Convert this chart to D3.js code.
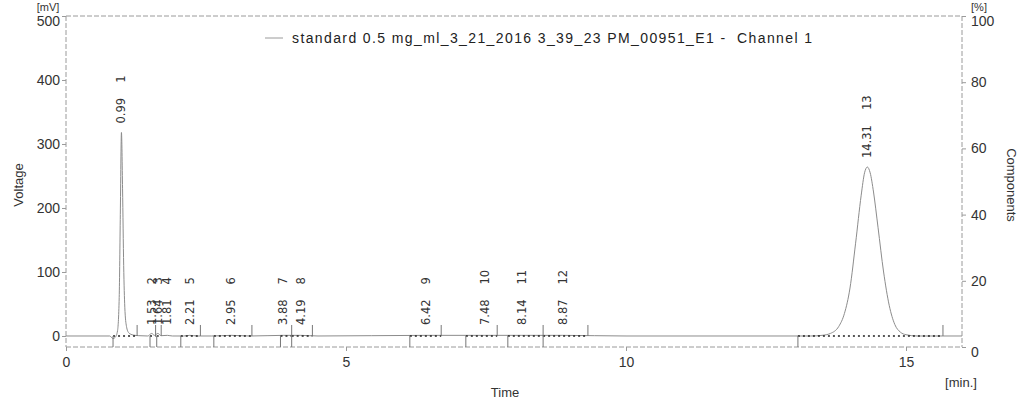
<!DOCTYPE html>
<html>
<head>
<meta charset="utf-8">
<script src="https://cdn.jsdelivr.net/npm/d3@7"></script>
<style>
  body { margin: 0; background: #fff; }
  svg { display: block; }
</style>
</head>
<body>
<div id="chart"></div>
<script>
const canvas = { w: 1022, h: 407 };
const margin = { top: 16, right: 60, bottom: 60, left: 66 };

// chromatogram trace (minutes, mV)
const traceTime = [0, 0.78, 0.84, 0.88, 0.92, 0.95, 0.97, 0.99, 1.01, 1.03, 1.05, 1.08, 1.12, 1.2, 1.3, 1.46,
  1.53, 1.58, 1.64, 1.7, 1.81, 1.9, 2.1, 2.21, 2.35, 2.6, 2.95, 3.3, 3.88, 4.19, 4.5, 6.42, 7.48, 8.14, 8.87,
  10, 12, 13.3, 13.5, 13.65, 13.8, 13.9, 14.0, 14.1, 14.2, 14.26, 14.31, 14.36, 14.42, 14.5, 14.6, 14.7,
  14.8, 14.9, 15.0, 15.2, 16];
const traceMv = [0, 0, -4, -2, 8, 60, 190, 318, 230, 110, 45, 15, 5, 1.5, 0.5, 0,
  4, 1, 4, 0.5, 1, 0, 0, 1, 0, 0, 1, 0, 1, 1, 0, 1, 1, 1, 1,
  0, 0, 0, 1, 4, 15, 35, 75, 145, 220, 255, 264, 255, 225, 170, 100, 48,
  18, 6, 2, 0, 0];

// peak table
const peakIds = [1, 2, 3, 4, 5, 6, 7, 8, 9, 10, 11, 12, 13];
const peakTimes = [0.99, 1.53, 1.64, 1.81, 2.21, 2.95, 3.88, 4.19, 6.42, 7.48, 8.14, 8.87, 14.31];
const peakApex = [318, 3, 3, 3, 3, 3, 3, 3, 3, 3, 3, 3, 264];

// integration baselines (minutes)
const baseStart = [0.84, 1.5, 1.62, 2.05, 2.64, 3.83, 4.03, 6.14, 7.14, 7.89, 8.52, 13.07];
const baseEnd = [1.27, 1.6, 1.7, 2.4, 3.32, 4.03, 4.4, 6.7, 7.7, 8.52, 9.32, 15.66];

const xTicks = [0, 5, 10, 15];
const yTicks = [0, 100, 200, 300, 400, 500];
const y2Ticks = [0, 20, 40, 60, 80, 100];

const legendLabel = "standard 0.5 mg_ml_3_21_2016 3_39_23 PM_00951_E1 -  Channel 1";

const x = d3.scaleLinear().domain([0, 16]).range([margin.left, canvas.w - margin.right]);
const y = d3.scaleLinear().domain([-17.2, 500]).range([canvas.h - margin.bottom, margin.top]);
const y2 = d3.scaleLinear().domain([0, 100]).range([canvas.h - margin.bottom, margin.top]);

const svg = d3.select("#chart")
  .append("svg")
  .attr("width", canvas.w)
  .attr("height", canvas.h)
  .attr("viewBox", `0 0 ${canvas.w} ${canvas.h}`);

const axisFont = "Arial, 'Liberation Sans', sans-serif";
const grey = "#9a9a9a";

// frame
const [x0, x1] = x.range();
const [yb, yt] = y.range();
svg.append("g")
  .attr("stroke", grey).attr("stroke-width", 1).attr("stroke-dasharray", "5,2").attr("fill", "none")
  .selectAll("line")
  .data([[x0, yt, x1, yt], [x0, yb, x1, yb], [x0, yt, x0, yb], [x1, yt, x1, yb]])
  .join("line")
  .attr("x1", d => d[0]).attr("y1", d => d[1]).attr("x2", d => d[2]).attr("y2", d => d[3]);

// axes
function styleAxis(g) {
  g.select(".domain").remove();
  g.selectAll(".tick line").attr("stroke", grey);
  g.selectAll(".tick text").attr("fill", "#333").style("font-family", axisFont).style("font-size", "14px");
}

svg.append("g")
  .attr("transform", `translate(${x0},0)`)
  .call(d3.axisLeft(y).tickValues(yTicks).tickSize(4).tickPadding(2))
  .call(styleAxis)
  .call(g => g.selectAll(".tick text").attr("dy", d => d === 500 ? "0.7em" : "0.32em"));

svg.append("g")
  .attr("transform", `translate(${x1},0)`)
  .call(d3.axisRight(y2).tickValues(y2Ticks).tickSize(4).tickPadding(5))
  .call(styleAxis)
  .call(g => g.selectAll(".tick text").attr("dy", d => d === 0 || d === 100 ? "0.7em" : "0.32em"));

svg.append("g")
  .attr("transform", `translate(0,${yb})`)
  .call(d3.axisBottom(x).tickValues(xTicks).tickSize(4).tickPadding(6))
  .call(styleAxis);

// units sit right above the top tick labels
svg.append("text").attr("x", 48).attr("y", 11).attr("text-anchor", "middle")
  .style("font-family", axisFont).style("font-size", "11px").attr("fill", "#333").text("[mV]");
svg.append("text").attr("x", 979).attr("y", 11).attr("text-anchor", "middle")
  .style("font-family", axisFont).style("font-size", "11px").attr("fill", "#333").text("[%]");

svg.append("text")
  .attr("transform", `translate(18,185) rotate(-90)`)
  .attr("text-anchor", "middle").attr("dominant-baseline", "central")
  .style("font-family", axisFont).style("font-size", "13px").attr("fill", "#333").text("Voltage");
svg.append("text")
  .attr("transform", `translate(1011,185) rotate(90)`)
  .attr("text-anchor", "middle").attr("dominant-baseline", "central")
  .style("font-family", axisFont).style("font-size", "13px").attr("fill", "#333").text("Components");
svg.append("text").attr("x", 505).attr("y", 397).attr("text-anchor", "middle")
  .style("font-family", axisFont).style("font-size", "13px").attr("fill", "#333").text("Time");
svg.append("text").attr("x", 961).attr("y", 387).attr("text-anchor", "middle")
  .style("font-family", axisFont).style("font-size", "13px").attr("fill", "#333").text("[min.]");

// legend
svg.append("line").attr("x1", 265).attr("x2", 283).attr("y1", 38).attr("y2", 38)
  .attr("stroke", grey).attr("stroke-width", 1);
svg.append("text").attr("x", 292).attr("y", 43)
  .attr("textLength", 520).attr("lengthAdjust", "spacing")
  .style("font-family", axisFont).style("font-size", "14px").attr("fill", "#222")
  .style("white-space", "pre")
  .text(legendLabel);

// trace
const trace = d3.zip(traceTime, traceMv);
svg.append("path")
  .datum(trace)
  .attr("fill", "none")
  .attr("stroke", "#8c8c8c")
  .attr("stroke-width", 1)
  .attr("d", d3.line().x(d => x(d[0])).y(d => y(d[1])).curve(d3.curveMonotoneX));

// integration baselines and markers
const segs = d3.zip(baseStart, baseEnd);
const marks = svg.append("g").attr("stroke", "#222").attr("stroke-width", 1.5);
marks.selectAll(".base")
  .data(segs)
  .join("line")
  .attr("class", "base")
  .attr("x1", d => x(d[0])).attr("x2", d => x(d[1]))
  .attr("y1", y(0)).attr("y2", y(0))
  .attr("stroke-dasharray", "2,3");
marks.selectAll(".st")
  .data(baseStart)
  .join("line")
  .attr("class", "st")
  .attr("stroke", "#777").attr("stroke-width", 1)
  .attr("x1", d => x(d)).attr("x2", d => x(d))
  .attr("y1", y(0)).attr("y2", yb);
marks.selectAll(".en")
  .data(baseEnd)
  .join("line")
  .attr("class", "en")
  .attr("stroke", "#777").attr("stroke-width", 1)
  .attr("x1", d => x(d)).attr("x2", d => x(d))
  .attr("y1", y(0)).attr("y2", y(0) - 11);

// peak labels
const labelFont = "'DejaVu Sans', Verdana, sans-serif";
const peaks = d3.zip(peakIds, peakTimes, peakApex);
const lab = svg.append("g").attr("fill", "#333")
  .style("font-family", labelFont).style("font-size", "11.5px");

peaks.forEach(([id, t, h]) => {
  const px = x(t);
  const bottom = y(h) - 9;
  const tt = lab.append("text")
    .attr("transform", `translate(${px},${bottom}) rotate(-90)`)
    .attr("dominant-baseline", "central")
    .text(t.toFixed(2));
  const len = tt.node().getComputedTextLength();
  lab.append("text")
    .attr("transform", `translate(${px},${bottom - len - 15}) rotate(-90)`)
    .attr("dominant-baseline", "central")
    .text(id);
});
</script>
</body>
</html>
